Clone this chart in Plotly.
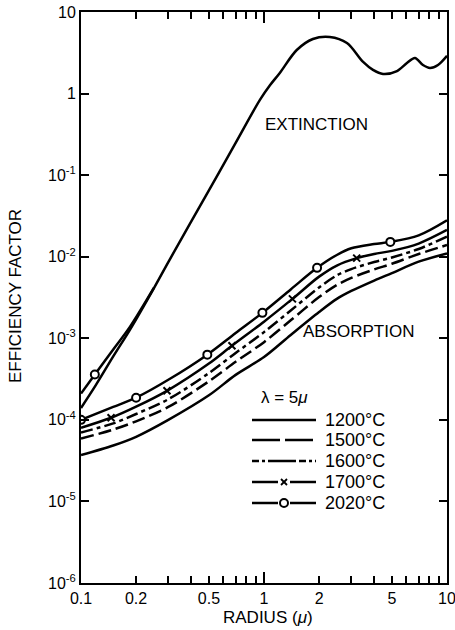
import plotly.graph_objects as go

# ---- efficiency factors versus particle radius, lambda = 5 micron ----
# extinction (identical for 1200-1700 C at this scale)
ext_r = [0.1, 0.12, 0.15, 0.185, 0.25, 0.3, 0.5, 0.7, 0.95, 1.08, 1.22, 1.51, 1.85,
         2.29, 2.84, 3.48, 3.94, 4.47, 5.33, 6.04, 6.68, 7.39, 8.07, 8.93, 10.0]
ext_q = [1.4e-4, 2.63e-4, 6.0e-4, 1.27e-3, 4.1e-3, 8.6e-3, 0.065, 0.248, 0.835,
         1.27, 1.79, 3.42, 4.67, 4.94, 4.17, 2.44, 1.95, 1.74, 1.89, 2.37, 2.73,
         2.24, 2.06, 2.24, 2.9]
# extinction at 2020 C, separates from the others only for small radii
ext2020_r = [0.1, 0.119, 0.15, 0.185, 0.25]
ext2020_q = [2.1e-4, 3.6e-4, 7.3e-4, 1.38e-3, 4.15e-3]

# absorption efficiency for each temperature
abs_r = [0.1, 0.15, 0.2, 0.3, 0.5, 0.7, 1.0, 1.4, 2.0, 2.5, 3.0, 4.0, 5.0, 7.0, 10.0]
abs_1200 = [3.7e-5, 4.85e-5, 6.2e-5, 1.0e-4, 2.0e-4, 3.56e-4, 5.9e-4, 1.1e-3,
            2.1e-3, 3.04e-3, 3.8e-3, 5.1e-3, 6.3e-3, 8.7e-3, 0.011]
abs_1500 = [5.9e-5, 7.6e-5, 9.6e-5, 1.44e-4, 2.97e-4, 5.15e-4, 8.97e-4, 1.66e-3,
            3.2e-3, 4.5e-3, 5.5e-3, 6.98e-3, 8.2e-3, 0.0108, 0.0139]
abs_1600 = [7.0e-5, 9.05e-5, 1.18e-4, 1.79e-4, 3.74e-4, 6.6e-4, 1.19e-3, 2.19e-3,
            4.2e-3, 5.9e-3, 7.06e-3, 8.6e-3, 9.8e-3, 0.01244, 0.0176]
abs1700_r = [0.1, 0.146, 0.2, 0.295, 0.5, 0.668, 1.0, 1.43, 2.0, 2.5, 3.21, 4.0,
             5.0, 7.0, 10.0]
abs_1700 = [8.0e-5, 1.06e-4, 1.45e-4, 2.27e-4, 4.9e-4, 8.1e-4, 1.6e-3, 3.04e-3,
            5.7e-3, 7.8e-3, 9.6e-3, 0.0108, 0.0118, 0.0145, 0.0213]
abs2020_r = [0.1, 0.15, 0.2, 0.3, 0.49, 0.7, 0.98, 1.4, 1.95, 2.5, 3.0, 4.0, 4.9,
             7.0, 10.0]
abs_2020 = [1.0e-4, 1.44e-4, 1.87e-4, 3.1e-4, 6.3e-4, 1.16e-3, 2.05e-3, 3.97e-3,
            7.3e-3, 0.0105, 0.0127, 0.0143, 0.0152, 0.0183, 0.028]
# which points carry the curve symbols
mark_1700 = [1, 3, 5, 7, 10]
mark_2020 = [0, 2, 4, 6, 8, 12]

legend_labels = ["1200°C", "1500°C", "1600°C", "1700°C", "2020°C"]

x_major = [0.1, 0.2, 0.5, 1, 2, 5, 10]
x_major_labels = ["0.1", "0.2", "0.5", "1", "2", "5", "10"]
x_minor = [0.3, 0.4, 0.6, 0.7, 0.8, 0.9, 3, 4, 6, 7, 8, 9]
x_decades = [0.1, 1, 10]
y_ticks = [1e-6, 1e-5, 1e-4, 1e-3, 1e-2, 1e-1, 1, 10]
y_labels = ["10<sup>-6</sup>", "10<sup>-5</sup>", "10<sup>-4</sup>", "10<sup>-3</sup>",
            "10<sup>-2</sup>", "10<sup>-1</sup>", "1", "10"]

FONT = "Liberation Sans, Arial, sans-serif"
LW = 2.5
W, H = 455, 630
ML, MR, MT, MB = 81, 8, 12, 47


def line(dash="solid"):
    return dict(color="black", width=LW, dash=dash, shape="spline", smoothing=0.9)


open_circle = dict(symbol="circle", size=8, color="white",
                   line=dict(color="black", width=2))
cross = dict(symbol="x-thin-open", size=7, color="black",
             line=dict(color="black", width=2))

fig = go.Figure()
fig.add_trace(go.Scatter(x=ext_r, y=ext_q, mode="lines", line=line()))
fig.add_trace(go.Scatter(x=ext2020_r, y=ext2020_q, mode="lines", line=line()))
fig.add_trace(go.Scatter(x=[ext2020_r[1]], y=[ext2020_q[1]], mode="markers",
                         marker=open_circle))

fig.add_trace(go.Scatter(x=abs_r, y=abs_1200, mode="lines", line=line()))
fig.add_trace(go.Scatter(x=abs_r, y=abs_1500, mode="lines", line=line("13px,5px")))
fig.add_trace(go.Scatter(x=abs_r, y=abs_1600, mode="lines",
                         line=line("12px,4px,4px,4px")))
fig.add_trace(go.Scatter(x=abs1700_r, y=abs_1700, mode="lines", line=line()))
fig.add_trace(go.Scatter(x=[abs1700_r[i] for i in mark_1700],
                         y=[abs_1700[i] for i in mark_1700], mode="markers",
                         marker=cross))
fig.add_trace(go.Scatter(x=abs2020_r, y=abs_2020, mode="lines", line=line()))
fig.add_trace(go.Scatter(x=[abs2020_r[i] for i in mark_2020],
                         y=[abs_2020[i] for i in mark_2020], mode="markers",
                         marker=open_circle))
# empty traces so the extra tick rows are laid out
for ax in ("x2", "x3"):
    fig.add_trace(go.Scatter(x=[], y=[], xaxis=ax, yaxis="y", hoverinfo="skip"))

pw, ph = W - ML - MR, H - MT - MB


def px(p):
    return (p - ML) / pw


def py(p):
    return (H - MB - p) / ph


shapes = []
annotations = []
# hand-drawn key
rows = [420, 440, 461, 482, 503]
x0, x1, xm = 252, 316, 284
for k, (row, lab) in enumerate(zip(rows, legend_labels)):
    yy = py(row)
    common = dict(type="line", xref="paper", yref="paper", y0=yy, y1=yy)
    if k == 0:
        shapes.append(dict(common, x0=px(x0), x1=px(x1), line=dict(color="black", width=LW)))
    elif k == 1:
        shapes.append(dict(common, x0=px(x0), x1=px(x1),
                           line=dict(color="black", width=LW, dash="28px,5px")))
    elif k == 2:
        shapes.append(dict(common, x0=px(x0), x1=px(x1),
                           line=dict(color="black", width=LW, dash="7px,3px,3px,3px,28px,3px")))
    else:
        shapes.append(dict(common, x0=px(x0), x1=px(xm - 6), line=dict(color="black", width=LW)))
        shapes.append(dict(common, x0=px(xm + 6), x1=px(x1), line=dict(color="black", width=LW)))
        if k == 3:
            for s in (1, -1):
                shapes.append(dict(type="line", xref="paper", yref="paper",
                                   xsizemode="pixel", ysizemode="pixel",
                                   xanchor=px(xm), yanchor=yy,
                                   x0=-3, x1=3, y0=-3 * s, y1=3 * s,
                                   line=dict(color="black", width=1.8)))
        else:
            shapes.append(dict(type="circle", xref="paper", yref="paper",
                               xsizemode="pixel", ysizemode="pixel",
                               xanchor=px(xm), yanchor=yy,
                               x0=-4, x1=4, y0=-4, y1=4,
                               line=dict(color="black", width=2)))
    annotations.append(dict(text=lab, xref="paper", yref="paper", x=px(323), y=yy,
                            xanchor="left", yanchor="middle", showarrow=False,
                            font=dict(size=18, family=FONT, color="black")))

annotations += [
    dict(text="λ = 5<i>μ</i>", xref="paper", yref="paper", x=px(284), y=py(397),
         xanchor="center", yanchor="middle", showarrow=False,
         font=dict(size=17, family=FONT, color="black")),
    dict(text="EXTINCTION", xref="paper", yref="paper", x=px(316), y=py(124),
         xanchor="center", yanchor="middle", showarrow=False,
         font=dict(size=17, family=FONT, color="black")),
    dict(text="ABSORPTION", xref="paper", yref="paper", x=px(358), y=py(331),
         xanchor="center", yanchor="middle", showarrow=False,
         font=dict(size=17, family=FONT, color="black")),
    dict(text="EFFICIENCY FACTOR", xref="paper", yref="paper", x=px(15), y=py(296),
         xanchor="center", yanchor="middle", textangle=-90, showarrow=False,
         font=dict(size=17, family=FONT, color="black")),
    dict(text="RADIUS (<i>μ</i>)", xref="paper", yref="paper", x=px(268), y=py(617),
         xanchor="center", yanchor="middle", showarrow=False,
         font=dict(size=17, family=FONT, color="black")),
]

axis_common = dict(type="log", showgrid=False, zeroline=False, showline=True,
                   linecolor="black", linewidth=2, mirror="ticks", ticks="inside",
                   tickcolor="black", tickwidth=1.5, ticklabeloverflow="allow",
                   tickfont=dict(size=16, family=FONT, color="black"))


def tick_overlay(vals, length):
    # unlabelled tick row sharing the main radius axis
    return dict(type="log", range=[-1, 1], overlaying="x", anchor="y",
                showgrid=False, zeroline=False, showline=False,
                tickmode="array", tickvals=vals, ticks="inside",
                ticklen=length, tickwidth=1.5, tickcolor="black", mirror="ticks",
                showticklabels=False)


fig.update_layout(
    width=W, height=H,
    margin=dict(l=ML, r=MR, t=MT, b=MB, autoexpand=False),
    paper_bgcolor="white", plot_bgcolor="white",
    showlegend=False,
    xaxis=dict(axis_common, range=[-1, 1], tickmode="array", tickvals=x_major,
               ticktext=x_major_labels, ticklen=7, tickangle=0),
    xaxis2=tick_overlay(x_decades, 11),
    xaxis3=tick_overlay(x_minor, 7),
    yaxis=dict(axis_common, range=[-6, 1], tickmode="array", tickvals=y_ticks,
               ticktext=y_labels, ticklen=8),
    shapes=shapes,
    annotations=annotations,
)

fig.write_html("out.html")
